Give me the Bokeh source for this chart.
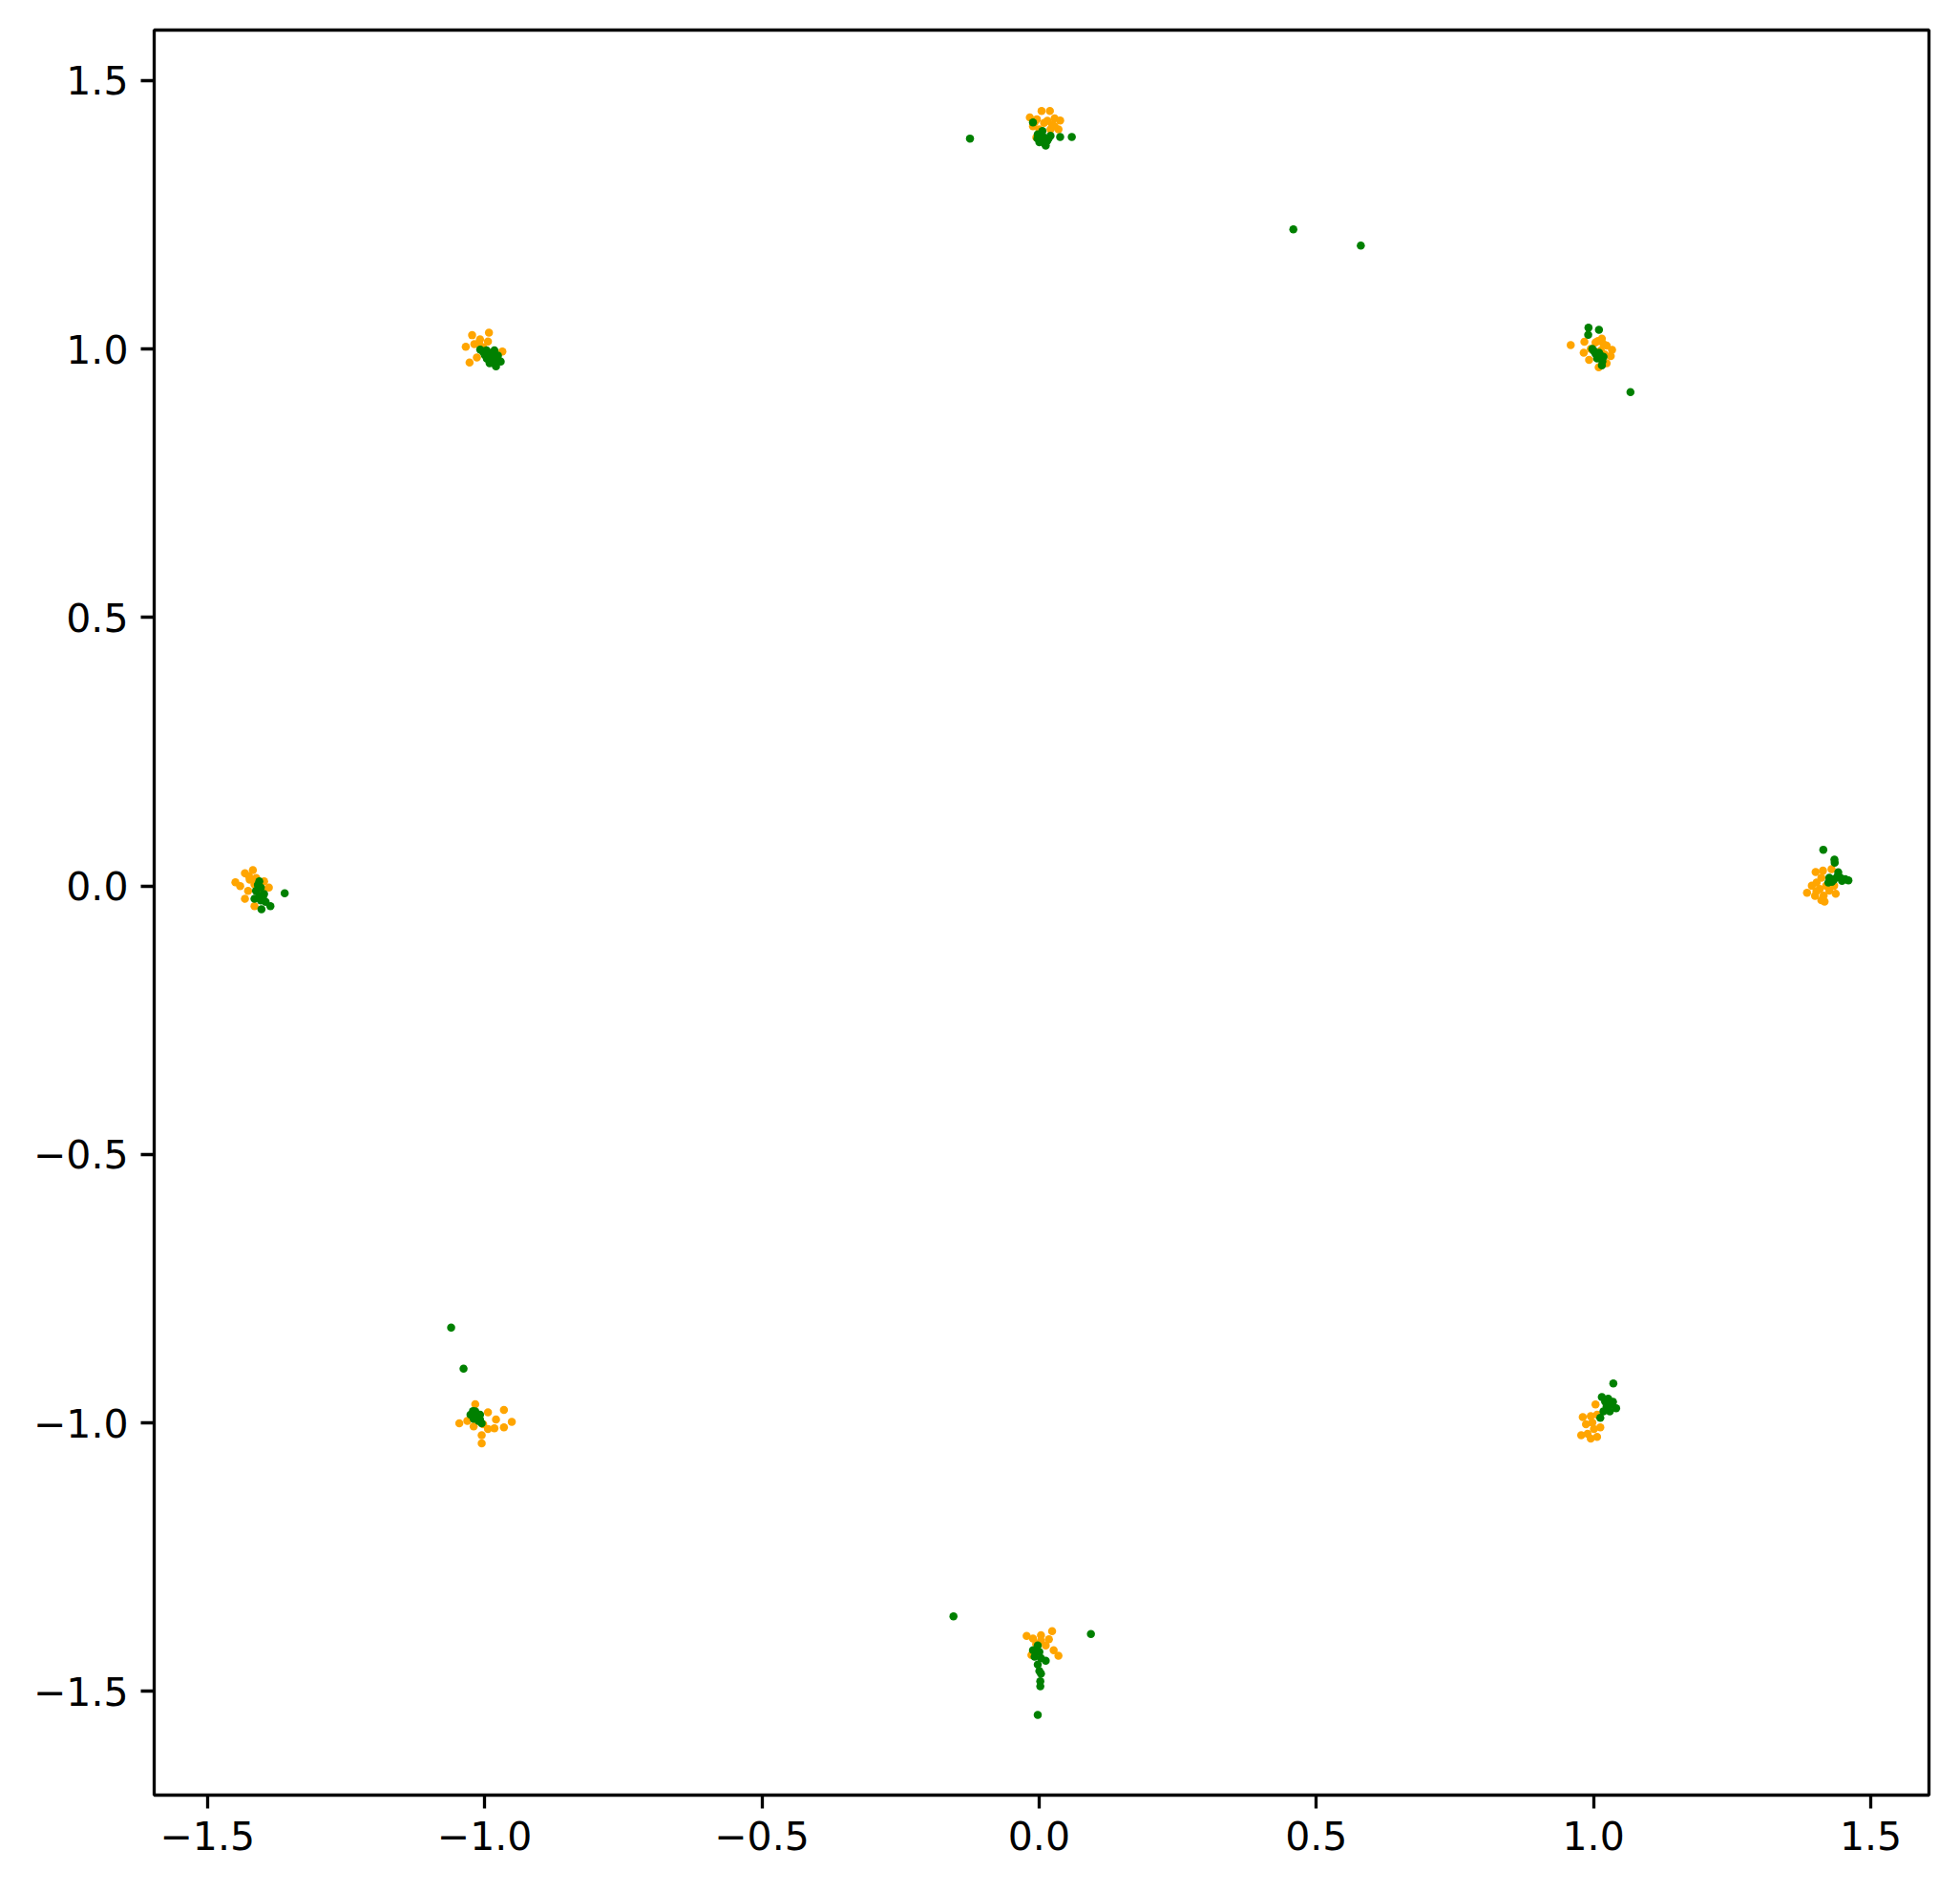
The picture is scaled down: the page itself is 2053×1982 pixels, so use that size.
from bokeh.plotting import figure
from bokeh.models import FixedTicker, Range1d
from bokeh.embed import file_html
from bokeh.resources import INLINE

# Orange series
orange_x = [0.0045, 0.0195, -0.0167, -0.004, 0.028, 0.038, -0.011, 0.009, 0.0235, 0.035, -0.005, 0.0206, 0.0005,
            -0.008, 0.015, 0.028,
            0.9589, 0.9835, 1.015, 1.018, 0.9823, 0.992, 1.0093, 1.0236, 1.0334, 1.0311, 1.0036, 0.995, 1.0133, 1.0236,
            1.008, 1.020,
            -1.0226, -0.9922, -1.0083, -1.034, -1.0186, -0.994, -1.014, -1.0272, -0.968, -1.0026, -1.010,
            1.4006, 1.4138, 1.4293, 1.3937, 1.4023, 1.4109, 1.3851, 1.3995, 1.4109, 1.4167, 1.4253, 1.4368, 1.434, 1.4081, 1.4196,
            1.402, 1.415,
            -1.4495, -1.4409, -1.4323, -1.418, -1.4237, -1.4151, -1.3978, -1.3892, -1.4323, -1.4151, -1.4266, -1.4007,
            -1.425, -1.412,
            1.0036, 0.9806, 0.995, 1.0064, 0.9864, 0.9978, 1.0122, 0.9778, 0.9892, 0.995, 1.0064, 1.0007,
            -1.0169, -0.9652, -0.994, -0.9795, -1.0456, -1.0312, -1.0198, -1.0026, -0.951, -0.9652, -0.9824, -0.994, -1.0053, -1.0053,
            -0.0224, -0.011, 0.0034, 0.0235, 0.0177, -0.0052, 0.012, -0.0138, 0.0263, 0.0349, 0.0034]
orange_y = [1.4433, 1.4433, 1.4314, 1.428, 1.4297, 1.4256, 1.415, 1.421, 1.418, 1.409, 1.394, 1.409, 1.409,
            1.422, 1.425, 1.415,
            1.0075, 1.0134, 1.0194, 1.0093, 0.9932, 0.9796, 0.966, 0.9737, 0.9986, 0.9867, 1.0123, 1.0004, 0.9974, 1.0063,
            1.015, 0.990,
            1.0258, 1.0306, 1.0182, 1.0044, 1.0093, 1.014, 0.9843, 0.975, 0.9955, 1.0034, 1.012,
            0.026, 0.0285, 0.0313, 0.0005, 0.0064, 0.0153, -0.0125, -0.0185, -0.0262, -0.0292, -0.0084, -0.0143, 0.0005, -0.0054, 0.0005,
            -0.010, -0.018,
            0.0071, 0.0, 0.0237, 0.0296, 0.0118, 0.0029, 0.0089, -0.003, -0.0238, -0.0374, -0.0089, -0.006,
            0.018, 0.015,
            -0.9655, -0.9892, -0.9874, -0.9845, -1.0023, -0.9993, -1.0082, -1.023, -1.0201, -1.029, -1.026, -1.0112,
            -0.9649, -0.9756, -0.9802, -0.9934, -1.0005, -0.9963, -1.0064, -1.0023, -0.998, -1.0082, -1.01, -1.0112, -1.023, -1.0379,
            -1.3966, -1.4013, -1.3954, -1.3877, -1.4026, -1.4115, -1.4143, -1.4321, -1.4233, -1.4334, -1.4056]

# Green series
green_x = [-0.011, -0.1246, 0.059, 0.038, 0.006, 0.009, 0.0005, 0.012, 0.0206, 0.003, 0.0148, -0.0024,
           0.007, 0.017, -0.003, 0.010,
           0.4586, 0.5803,
           0.9909, 1.0098, 0.9904, 0.9978, 1.0036, 1.0122, 1.018, 1.015, 1.0666, 1.0064, 1.0,
           1.010, 1.016,
           -1.0079, -0.9967, -0.9824, -0.9996, -0.9881, -0.9768, -0.991, -0.9795, -0.971, -1.0026, -0.9853,
           -0.993, -0.983, -0.976, -0.990, -0.996, -0.981,
           1.4144, 1.4345, 1.435, 1.4414, 1.4253, 1.434, 1.4453, 1.454, 1.4597, 1.4236, 1.4482,
           1.430, 1.440,
           -1.4064, -1.4037, -1.4123, -1.3978, -1.4151, -1.4037, -1.395, -1.3864, -1.4025, -1.3606, -1.4064,
           -1.409, -1.400,
           1.0357, 1.015, 1.0265, 1.0351, 1.0408, 1.0236, 1.0179, 1.0122, 1.0294,
           1.030, 1.021,
           -1.0255, -1.0169, -1.0083, -1.0198, -1.0083, -1.0053, -1.014,
           -1.021, -1.011,
           -1.0604, -1.038,
           -0.0024, -0.011, 0.0005, -0.0081, 0.0034, 0.012, -0.0024, 0.0005, 0.0034, 0.0022, 0.0022, -0.0024,
           -0.1544, 0.0935]
green_y = [1.422, 1.392, 1.395, 1.3948, 1.406, 1.394, 1.385, 1.379, 1.397, 1.397, 1.388, 1.400,
           1.391, 1.392, 1.392, 1.383,
           1.2229, 1.1927,
           1.040, 1.036, 1.0265, 1.0004, 0.9915, 0.9885, 0.9856, 0.9696, 0.9198, 0.9826, 0.997,
           0.993, 0.977,
           0.9991, 0.9974, 0.9974, 0.9885, 0.9856, 0.9826, 0.9737, 0.9678, 0.9767, 0.9945, 0.9767,
           0.993, 0.991, 0.988, 0.980, 0.982, 0.972,
           0.0676, 0.0492, 0.0433, 0.0254, 0.0153, 0.0125, 0.0153, 0.0125, 0.0107, 0.0064, 0.0094,
           0.008, 0.018,
           0.0089, -0.003, -0.0089, -0.0149, -0.0238, -0.0267, -0.0297, -0.0374, -0.0434, -0.0137, -0.0178,
           0.002, -0.021,
           -0.9263, -0.9518, -0.9548, -0.9607, -0.9726, -0.9696, -0.9785, -0.9904, -0.9785,
           -0.966, -0.960,
           -0.9845, -0.9785, -0.9845, -0.9922, -0.9934, -1.0005, -0.988,
           -0.978, -0.996,
           -0.8223, -0.899,
           -1.4143, -1.4233, -1.4262, -1.4351, -1.4381, -1.4428, -1.4499, -1.4618, -1.4666, -1.4809, -1.4903, -1.5437,
           -1.3603, -1.393]

ticks = [-1.5, -1.0, -0.5, 0.0, 0.5, 1.0, 1.5]
tick_labels = {t: (f"{t:.1f}".replace("-", "\u2212")) for t in ticks}

p = figure(width=2030, height=1966, output_backend="svg", toolbar_location=None,
           x_range=Range1d(-1.596, 1.605), y_range=Range1d(-1.693, 1.594),
           min_border_left=161, min_border_right=10, min_border_top=31, min_border_bottom=86)

p.scatter(orange_x, orange_y, size=8.5, marker="circle", fill_color="orange", line_color=None)
p.scatter(green_x, green_y, size=8.5, marker="circle", fill_color="green", line_color=None)

p.xgrid.visible = False
p.ygrid.visible = False
p.outline_line_color = "black"
p.outline_line_width = 3.3
p.background_fill_color = "white"
p.border_fill_color = "white"

for ax in (p.xaxis[0], p.yaxis[0]):
    ax.ticker = FixedTicker(ticks=ticks)
    ax.major_label_overrides = tick_labels
    ax.axis_line_color = None
    ax.major_tick_line_color = "black"
    ax.major_tick_line_width = 3.3
    ax.major_tick_out = 14
    ax.major_tick_in = 0
    ax.minor_tick_line_color = None
    ax.major_label_text_font = "DejaVu Sans"
    ax.major_label_text_font_size = "41px"
    ax.major_label_text_color = "black"
    ax.major_label_standoff = 13

open("out.html", "w").write(file_html(p, INLINE))
